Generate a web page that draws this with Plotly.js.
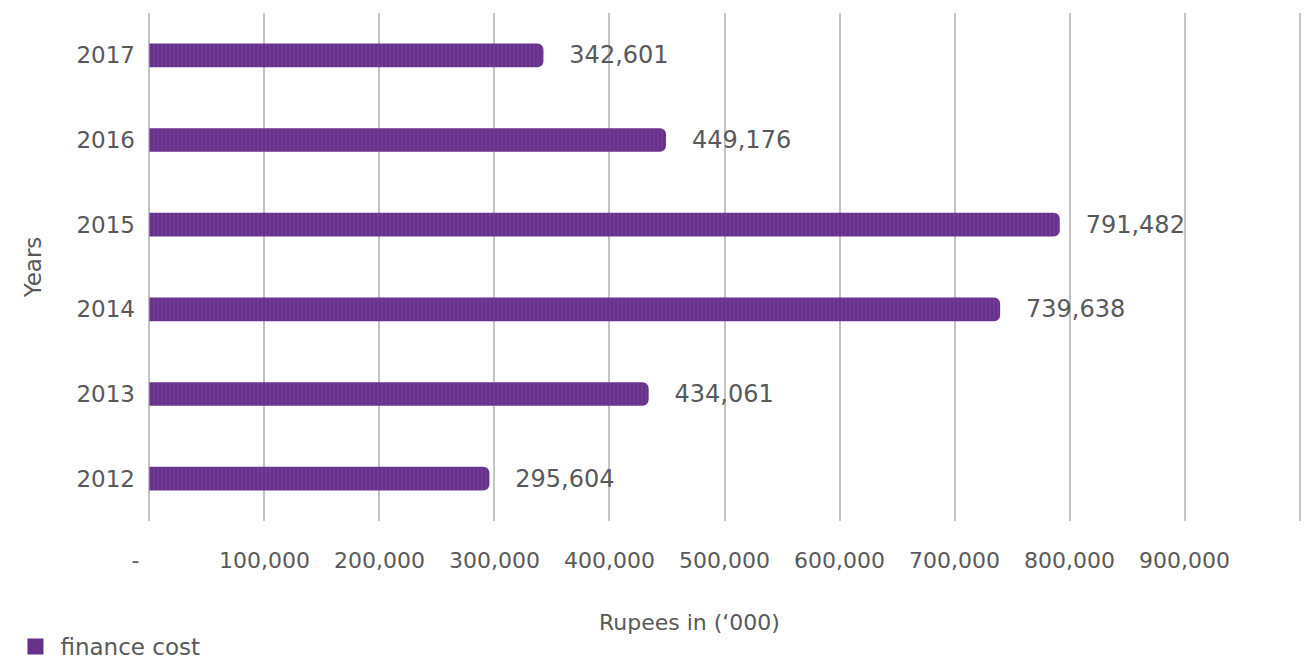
<!DOCTYPE html>
<html>
<head>
<meta charset="utf-8">
<script src="https://cdn.plot.ly/plotly-3.0.1.min.js"></script>
<style>
html,body{margin:0;padding:0;background:#fff;}
#chart{width:1306px;height:661px;}
</style>
</head>
<body>
<div id="chart"></div>
<script>
const years = ['2012', '2013', '2014', '2015', '2016', '2017'];
const financeCost = [295604, 434061, 739638, 791482, 449176, 342601];
const tickValues = [0, 100000, 200000, 300000, 400000, 500000, 600000, 700000, 800000, 900000, 1000000];
const tickLabels = ['-\u00a0\u00a0\u00a0\u00a0', '100,000', '200,000', '300,000', '400,000', '500,000', '600,000', '700,000', '800,000', '900,000', ''];
const seriesName = 'finance cost';
const xTitle = 'Rupees in (‘000)';
const yTitle = 'Years';

const FONT = '"DejaVu Sans", "Open Sans", sans-serif';
const GREY = '#595959';
const PURPLE = '#67308b';

const bars = {
  type: 'bar',
  orientation: 'h',
  y: years,
  x: financeCost,
  name: seriesName,
  showlegend: false,
  width: 0.28,
  marker: {
    color: PURPLE,
    cornerradius: 6,
    line: {width: 0},
    pattern: {shape: '|', fillmode: 'overlay', fgcolor: '#8f5eb0', fgopacity: 0.35, size: 4, solidity: 0.3}
  },
  text: financeCost.map(v => '\u00a0\u00a0\u00a0' + v.toLocaleString('en-US')),
  textposition: 'outside',
  textfont: {family: FONT, size: 24, color: GREY},
  cliponaxis: false,
  constraintext: 'none',
  hoverinfo: 'x+y'
};

// legend entry only (square swatch like the reference)
const legendEntry = {
  type: 'scatter',
  mode: 'markers',
  x: [null],
  y: [null],
  name: seriesName,
  showlegend: true,
  marker: {symbol: 'square', size: 19, color: PURPLE},
  hoverinfo: 'skip'
};

const layout = {
  width: 1306,
  height: 661,
  margin: {l: 148, r: 5, t: 13, b: 140, autoexpand: false},
  paper_bgcolor: '#ffffff',
  plot_bgcolor: '#ffffff',
  font: {family: FONT, color: GREY, size: 22},
  showlegend: true,
  legend: {
    x: 0.008, xref: 'container', xanchor: 'left',
    y: 0.022, yref: 'container', yanchor: 'middle',
    orientation: 'h',
    font: {family: FONT, size: 23, color: GREY},
    itemwidth: 40,
    itemsizing: 'trace',
    bgcolor: 'rgba(0,0,0,0)'
  },
  xaxis: {
    range: [-1200, 1001200],
    tickmode: 'array',
    tickvals: tickValues,
    ticktext: tickLabels,
    showgrid: true,
    gridcolor: '#c4c4c4',
    gridwidth: 2,
    zeroline: false,
    showline: false,
    ticks: '',
    ticklabelstandoff: 24,
    tickfont: {family: FONT, size: 22, color: GREY},
    fixedrange: true
  },
  yaxis: {
    type: 'category',
    categoryorder: 'array',
    categoryarray: years,
    showgrid: false,
    zeroline: false,
    showline: false,
    ticks: '',
    ticklabelstandoff: 12,
    tickfont: {family: FONT, size: 23, color: GREY},
    title: {text: yTitle, font: {family: FONT, size: 23, color: GREY}, standoff: 28},
    fixedrange: true
  },
  annotations: [{
    text: xTitle,
    xref: 'paper', yref: 'paper',
    x: (689 - 148) / 1153, y: -0.2,
    xanchor: 'center', yanchor: 'middle',
    showarrow: false,
    font: {family: FONT, size: 22, color: GREY}
  }]
};

Plotly.newPlot('chart', [bars, legendEntry], layout, {displayModeBar: false, staticPlot: true});
</script>
</body>
</html>
